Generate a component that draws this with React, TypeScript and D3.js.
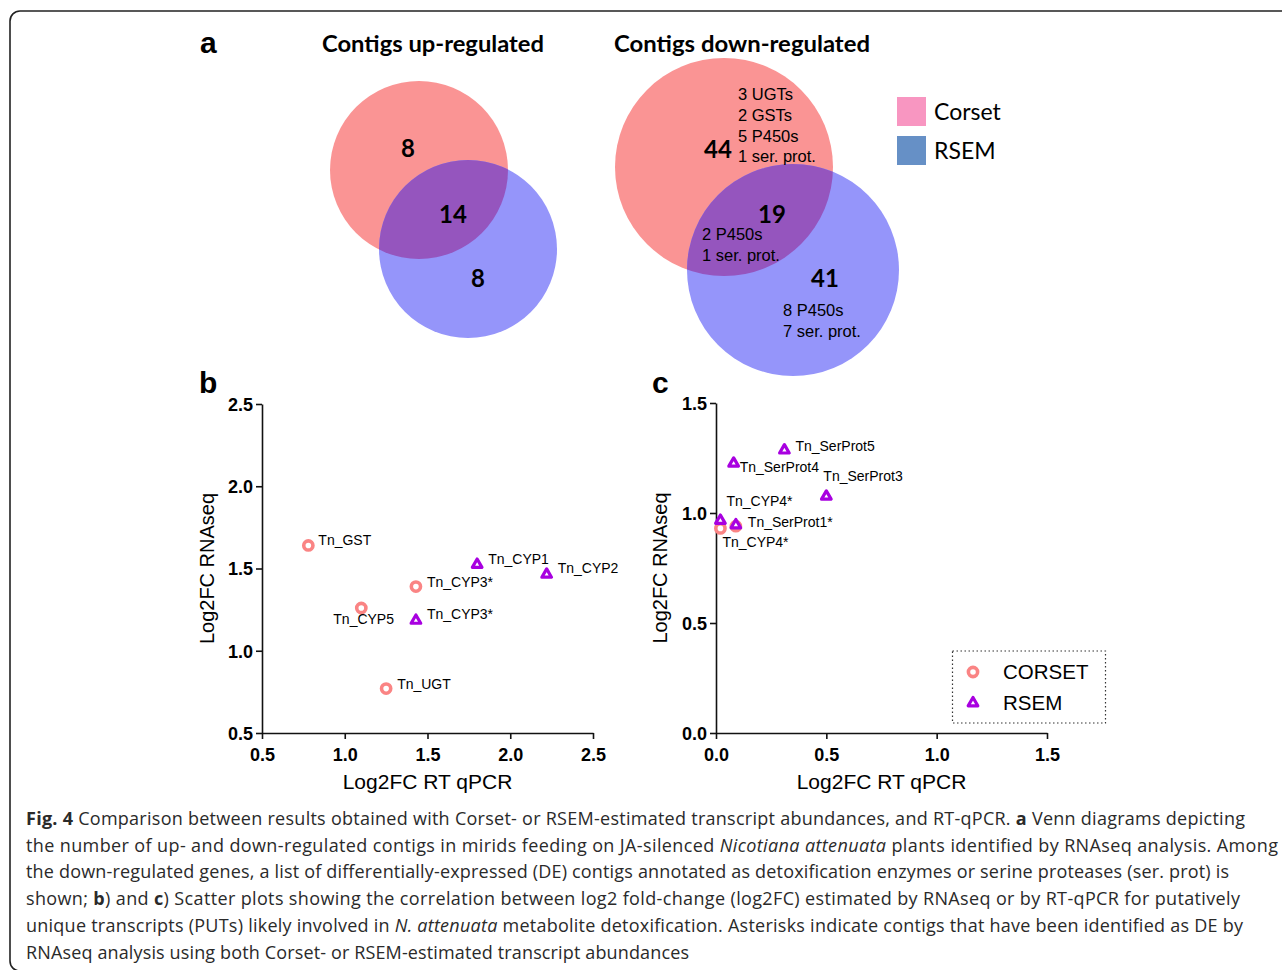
import { useEffect, useRef } from 'react';
import * as d3 from 'd3';

// Venn counts: [Corset only, shared, RSEM only]
const upCounts = [8, 14, 8];
const downCounts = [44, 19, 41];
const downCorsetNotes = ['3 UGTs', '2 GSTs', '5 P450s', '1 ser. prot.'];
const downSharedNotes = ['2 P450s', '1 ser. prot.'];
const downRsemNotes = ['8 P450s', '7 ser. prot.'];
const vennLegend = ['Corset', 'RSEM'];

const bTicks = [0.5, 1.0, 1.5, 2.0, 2.5];
const cTicks = [0.0, 0.5, 1.0, 1.5];

const bCorset = [
  { name: 'Tn_GST', x: 0.78, y: 1.64 },
  { name: 'Tn_CYP3*', x: 1.43, y: 1.39 },
  { name: 'Tn_CYP5', x: 1.10, y: 1.26 },
  { name: 'Tn_UGT', x: 1.25, y: 0.77 },
];
const bRsem = [
  { name: 'Tn_CYP1', x: 1.80, y: 1.53 },
  { name: 'Tn_CYP2', x: 2.22, y: 1.47 },
  { name: 'Tn_CYP3*', x: 1.43, y: 1.19 },
];
const cCorset = [
  { name: 'Tn_CYP4*', x: 0.02, y: 0.93 },
  { name: '', x: 0.09, y: 0.94 },
];
const cRsem = [
  { name: 'Tn_SerProt5', x: 0.31, y: 1.29 },
  { name: 'Tn_SerProt4', x: 0.08, y: 1.23 },
  { name: 'Tn_SerProt3', x: 0.50, y: 1.08 },
  { name: 'Tn_CYP4*', x: 0.02, y: 0.97 },
  { name: 'Tn_SerProt1*', x: 0.09, y: 0.95 },
];
const scatterLegend = ['CORSET', 'RSEM'];

// label nudges (px) from the marker, kept apart from the values
const bCorsetNudge = [[10, 0], [11, 0], [-28, 16], [11, 0]];
const bRsemNudge = [[11, 0], [11, 0], [11, 0]];
const cCorsetNudge = [[2, 19], [0, 0]];
const cRsemNudge = [[11, 2], [6, 10], [-3, -14], [6, -14], [12, 3]];

const caption = [
  [{ t: 'Fig. 4', b: true }, { t: ' Comparison between results obtained with Corset- or RSEM-estimated transcript abundances, and RT-qPCR. ' }, { t: 'a', b: true }, { t: ' Venn diagrams depicting' }],
  [{ t: 'the number of up- and down-regulated contigs in mirids feeding on JA-silenced ' }, { t: 'Nicotiana attenuata', i: true }, { t: ' plants identified by RNAseq analysis. Among' }],
  [{ t: 'the down-regulated genes, a list of differentially-expressed (DE) contigs annotated as detoxification enzymes or serine proteases (ser. prot) is' }],
  [{ t: 'shown; ' }, { t: 'b', b: true }, { t: ') and ' }, { t: 'c', b: true }, { t: ') Scatter plots showing the correlation between log2 fold-change (log2FC) estimated by RNAseq or by RT-qPCR for putatively' }],
  [{ t: 'unique transcripts (PUTs) likely involved in ' }, { t: 'N. attenuata', i: true }, { t: ' metabolite detoxification. Asterisks indicate contigs that have been identified as DE by' }],
  [{ t: 'RNAseq analysis using both Corset- or RSEM-estimated transcript abundances' }],
];
const captionWidths = [1219, 1252, 1203, 1214, 1217, 663];

const SANS = '"Liberation Sans", Arial, sans-serif';
const HUM = 'Lato, "Open Sans", sans-serif';
const RED = '#fa9494';
const BLUE = '#9595fa';
const MIX = '#9555be';
const CIRC = '#fa8484';
const TRI = '#a800e0';

export default function App() {
  const ref = useRef<SVGSVGElement>(null);

  useEffect(() => {
    const svg = d3.select(ref.current);
    svg.selectAll('*').remove();

    // frame (runs off the right and bottom edges)
    svg.append('rect')
      .attr('x', 10).attr('y', 11).attr('width', 1300).attr('height', 960)
      .attr('rx', 10).attr('fill', 'none').attr('stroke', '#222').attr('stroke-width', 1.6);

    // panel letters
    [['a', 200, 53], ['b', 199, 393], ['c', 652, 393]].forEach(([t, x, y]) => {
      svg.append('text').attr('x', x).attr('y', y).text(t as string)
        .style('font-family', SANS).style('font-weight', 'bold').style('font-size', '30px');
    });

    // ---- Venn diagrams ----
    const venn = (id: string, a: { cx: number; cy: number; r: number }, b: { cx: number; cy: number; r: number }) => {
      const g = svg.append('g');
      g.append('clipPath').attr('id', id).append('circle')
        .attr('cx', a.cx).attr('cy', a.cy).attr('r', a.r);
      g.append('circle').attr('cx', a.cx).attr('cy', a.cy).attr('r', a.r).attr('fill', RED);
      g.append('circle').attr('cx', b.cx).attr('cy', b.cy).attr('r', b.r).attr('fill', BLUE);
      g.append('circle').attr('cx', b.cx).attr('cy', b.cy).attr('r', b.r).attr('fill', MIX)
        .attr('clip-path', `url(#${id})`);
      return g;
    };
    const count = (g: any, v: number, x: number, y: number) =>
      g.append('text').attr('x', x).attr('y', y).attr('text-anchor', 'middle').attr('dominant-baseline', 'central')
        .style('font-family', HUM).style('font-weight', 'bold').style('font-size', '24px').text(v);
    const notes = (g: any, lines: string[], x: number, y0: number) =>
      lines.forEach((t, i) => g.append('text').attr('x', x).attr('y', y0 + i * 20.8)
        .style('font-family', SANS).style('font-size', '16.5px').text(t));

    const up = venn('clipUp', { cx: 419, cy: 170, r: 89 }, { cx: 468, cy: 249, r: 89 });
    count(up, upCounts[0], 408, 147);
    count(up, upCounts[1], 453, 213);
    count(up, upCounts[2], 478, 277);

    const down = venn('clipDown', { cx: 724, cy: 167, r: 109 }, { cx: 793, cy: 270, r: 106 });
    count(down, downCounts[0], 718, 148);
    count(down, downCounts[1], 772, 213);
    count(down, downCounts[2], 825, 277);
    notes(down, downCorsetNotes, 738, 100);
    notes(down, downSharedNotes, 702, 240);
    notes(down, downRsemNotes, 783, 316);

    svg.append('text').attr('x', 322).attr('y', 52).attr('textLength', 222).attr('lengthAdjust', 'spacingAndGlyphs')
      .style('font-family', HUM).style('font-weight', 'bold').style('font-size', '22px').text('Contigs up-regulated');
    svg.append('text').attr('x', 614).attr('y', 52).attr('textLength', 256).attr('lengthAdjust', 'spacingAndGlyphs')
      .style('font-family', HUM).style('font-weight', 'bold').style('font-size', '22px').text('Contigs down-regulated');

    const legCols = ['#f896c1', '#6690c6'];
    vennLegend.forEach((t, i) => {
      svg.append('rect').attr('x', 897).attr('y', 97 + i * 39).attr('width', 29).attr('height', 29).attr('fill', legCols[i]);
      svg.append('text').attr('x', 934).attr('y', 120 + i * 39)
        .style('font-family', HUM).style('font-size', '23px').text(t);
    });

    // ---- scatter panels ----
    const tri = d3.symbol(d3.symbolTriangle, 40);
    const scatter = (opt: any) => {
      const x = d3.scaleLinear().domain(opt.xd).range(opt.xr);
      const y = d3.scaleLinear().domain(opt.yd).range(opt.yr);
      const g = svg.append('g');

      const ax = g.append('g').attr('transform', `translate(0,${opt.yr[0]})`)
        .call(d3.axisBottom(x).tickValues(opt.ticksX).tickFormat(d3.format('.1f')).tickSize(6).tickSizeOuter(0).tickPadding(9));
      const ay = g.append('g').attr('transform', `translate(${opt.xr[0]},0)`)
        .call(d3.axisLeft(y).tickValues(opt.ticksY).tickFormat(d3.format('.1f')).tickSize(6).tickSizeOuter(0).tickPadding(3));
      [ax, ay].forEach(a => {
        a.selectAll('path,line').attr('stroke', '#111').attr('stroke-width', 1.6);
        a.selectAll('text').attr('fill', '#000').style('font-family', SANS).style('font-weight', 'bold').style('font-size', '18px');
      });
      ay.selectAll('text').attr('dy', '0.36em');

      g.append('text').attr('transform', `translate(${opt.ytx},${(opt.yr[0] + opt.yr[1]) / 2}) rotate(-90)`)
        .attr('text-anchor', 'middle').attr('dominant-baseline', 'central')
        .style('font-family', SANS).style('font-size', '20px').text('Log2FC RNAseq');
      g.append('text').attr('x', (opt.xr[0] + opt.xr[1]) / 2).attr('y', 789).attr('text-anchor', 'middle')
        .style('font-family', SANS).style('font-size', '21px').text('Log2FC RT qPCR');

      g.selectAll('.pc').data(opt.corset).enter().append('circle')
        .attr('cx', (d: any) => x(d.x)).attr('cy', (d: any) => y(d.y)).attr('r', 4.6)
        .attr('fill', '#fff').attr('stroke', CIRC).attr('stroke-width', 3.6);
      g.selectAll('.pt').data(opt.rsem).enter().append('path')
        .attr('d', tri).attr('transform', (d: any) => `translate(${x(d.x)},${y(d.y) + 1})`)
        .attr('fill', '#fff').attr('stroke', TRI).attr('stroke-width', 3.2).attr('stroke-linejoin', 'round');

      const lab = (data: any[], nudge: number[][]) => data.forEach((d, i) => {
        if (!d.name) return;
        g.append('text').attr('x', x(d.x) + nudge[i][0]).attr('y', y(d.y) + nudge[i][1])
          .style('font-family', SANS).style('font-size', '14px').text(d.name);
      });
      lab(opt.corset, opt.cn);
      lab(opt.rsem, opt.rn);
    };

    scatter({ xd: [0.5, 2.5], xr: [262, 593], yd: [0.5, 2.5], yr: [733, 404], ticksX: bTicks, ticksY: bTicks, ytx: 207,
      corset: bCorset, rsem: bRsem, cn: bCorsetNudge, rn: bRsemNudge });
    scatter({ xd: [0, 1.5], xr: [716, 1047], yd: [0, 1.5], yr: [733, 403], ticksX: cTicks, ticksY: cTicks, ytx: 660,
      corset: cCorset, rsem: cRsem, cn: cCorsetNudge, rn: cRsemNudge });

    // scatter legend
    svg.append('rect').attr('x', 952.5).attr('y', 651).attr('width', 153).attr('height', 72)
      .attr('fill', 'none').attr('stroke', '#333').attr('stroke-width', 1.2).attr('stroke-dasharray', '1.5,2.5');
    svg.append('circle').attr('cx', 973).attr('cy', 672).attr('r', 4.6).attr('fill', '#fff').attr('stroke', CIRC).attr('stroke-width', 3.6);
    svg.append('path').attr('d', tri).attr('transform', 'translate(973,703)').attr('fill', '#fff').attr('stroke', TRI)
      .attr('stroke-width', 3.2).attr('stroke-linejoin', 'round');
    scatterLegend.forEach((t, i) => {
      svg.append('text').attr('x', 1003).attr('y', 679 + i * 30.5)
        .style('font-family', SANS).style('font-size', '20.5px').text(t);
    });

    // caption
    caption.forEach((line, i) => {
      const tx = svg.append('text').attr('x', 26).attr('y', 825 + i * 26.7)
        .attr('textLength', captionWidths[i]).attr('lengthAdjust', 'spacing')
        .style('font-family', '"Open Sans", sans-serif').style('font-size', '18px').attr('fill', '#2a2a2a');
      line.forEach((s: any) => {
        tx.append('tspan').text(s.t)
          .style('font-weight', s.b ? 'bold' : 'normal')
          .style('font-style', s.i ? 'italic' : 'normal');
      });
    });
  }, []);

  return (
    <div style={{ position: 'absolute', left: 0, top: 0 }}>
      <svg ref={ref} width={1282} height={970} style={{ display: 'block', background: '#fff' }} />
    </div>
  );
}
